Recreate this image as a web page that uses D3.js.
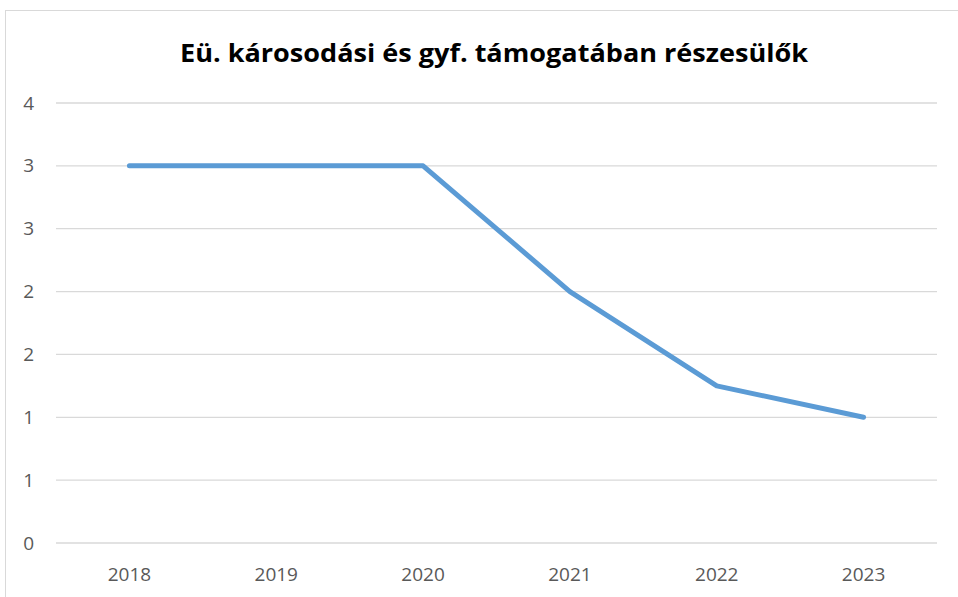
<!DOCTYPE html>
<html><head><meta charset="utf-8">
<script src="https://cdn.jsdelivr.net/npm/d3@7"></script>
<style>body{margin:0;background:#fff;} svg{display:block;}</style>
</head><body>
<svg id="c" width="958" height="597"></svg>
<script>
const categories = ["2018","2019","2020","2021","2022","2023"];
const values = [3, 3, 3, 2, 1.25, 1];
const yTicks = [0, 0.5, 1, 1.5, 2, 2.5, 3, 3.5];
const title = "Eü. károsodási és gyf. támogatában részesülők";

const svg = d3.select("#c");
svg.append("rect").attr("x",5.5).attr("y",10.5).attr("width",1000).attr("height",1000)
  .attr("fill","#fff").attr("stroke","#d9d9d9");

const pL = 56, pR = 937, pT = 103, pB = 543;
const x = d3.scaleBand().domain(categories).range([pL, pR]);
const y = d3.scaleLinear().domain([0, 3.5]).range([pB, pT]);

const grid = svg.append("g");
grid.selectAll("line").data(yTicks).join("line")
  .attr("x1", pL).attr("x2", pR)
  .attr("y1", d => y(d)).attr("y2", d => y(d))
  .attr("stroke", "#d9d9d9").attr("stroke-width", 1.3);

const font = "'Open Sans',sans-serif";
const yAxis = d3.axisLeft(y).tickValues(yTicks).tickFormat(d => String(Math.round(d + 1e-9))).tickSize(0).tickPadding(0);
const gy = svg.append("g").attr("transform", `translate(${pL-22},0)`).call(yAxis);
gy.select(".domain").remove();
gy.selectAll("text").attr("fill","#595959").style("font-family",font).style("font-size","19px");

const xAxis = d3.axisBottom(x).tickSize(0).tickPadding(0);
const gx = svg.append("g").attr("transform", `translate(0,${pB+24})`).call(xAxis);
gx.select(".domain").remove();
gx.selectAll("text").attr("fill","#595959").style("font-family",font).style("font-size","19px");

const line = d3.line().x((d,i) => x(categories[i]) + x.bandwidth()/2).y(d => y(d));
svg.append("path").datum(values).attr("d", line)
  .attr("fill","none").attr("stroke","#5b9bd5").attr("stroke-width",5)
  .attr("stroke-linecap","round").attr("stroke-linejoin","round");

svg.append("text").attr("x", 494).attr("y", 62).attr("text-anchor","middle")
  .style("font-family",font).style("font-weight","bold")
  .style("font-size","25px").attr("fill","#000")
  .attr("textLength", 628).attr("lengthAdjust","spacingAndGlyphs").text(title);
</script>
</body></html>
